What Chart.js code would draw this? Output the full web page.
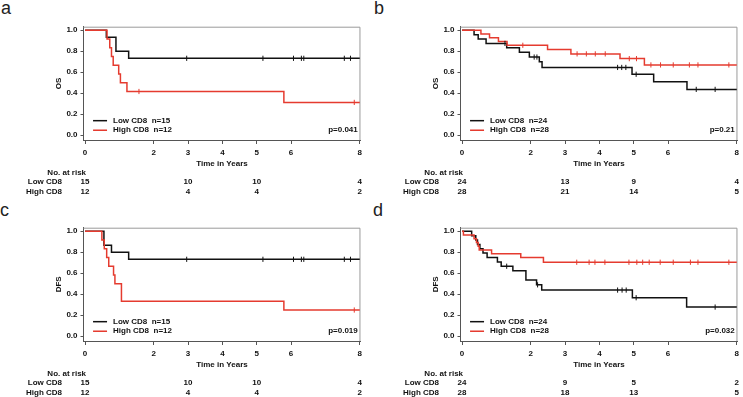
<!DOCTYPE html>
<html lang="en">
<head>
<meta charset="UTF-8">
<title>CD8 survival curves</title>
<script src="https://cdn.jsdelivr.net/npm/chart.js"></script>
<style>
  * { margin: 0; padding: 0; box-sizing: border-box; }
  body {
    width: 743px;
    height: 397px;
    background: #fff;
    position: relative;
    overflow: hidden;
    font-family: "Liberation Sans", Arial, sans-serif;
  }
  canvas { position: absolute; }
  .tag {
    position: absolute;
    font-size: 18px;
    line-height: 1;
    color: #222;
  }
</style>
</head>
<body>
<div class="tag" style="left:1px;top:-1px">a</div>
<div class="tag" style="left:374px;top:-1px">b</div>
<div class="tag" style="left:0px;top:201px">c</div>
<div class="tag" style="left:373px;top:201px">d</div>
<canvas id="chartA" width="366" height="196" style="left:0;top:0"></canvas>
<canvas id="chartB" width="366" height="196" style="left:377px;top:0"></canvas>
<canvas id="chartC" width="366" height="196" style="left:0;top:201px"></canvas>
<canvas id="chartD" width="366" height="196" style="left:377px;top:201px"></canvas>
<script>
// ---- data ----
const seriesNames = ['Low CD8', 'High CD8'];
const xTicks = [0, 2, 3, 4, 5, 6, 8];
const yTicks = [0, 0.2, 0.4, 0.6, 0.8, 1.0];
const riskTimes = [0, 3, 5, 8];

// a: OS, n=15 / n=12
const aLowT = [0, 0.62, 0.90, 1.27, 8];
const aLowS = [1, 0.933, 0.8, 0.733, 0.733];
const aLowCens = [2.96, 5.18, 6.07, 6.30, 6.37, 7.55, 7.73];
const aHighT = [0, 0.64, 0.72, 0.77, 0.82, 0.98, 1.03, 1.22, 5.79, 8];
const aHighS = [1, 0.917, 0.833, 0.75, 0.667, 0.583, 0.5, 0.417, 0.313, 0.313];
const aHighCens = [1.57, 7.84];
const aRiskLow = [15, 10, 10, 4];
const aRiskHigh = [12, 4, 4, 2];

// b: OS, n=24 / n=28
const bLowT = [0, 0.35, 0.47, 0.70, 1.30, 1.67, 1.96, 2.25, 2.33, 4.95, 5.58, 6.55, 8];
const bLowS = [1, 0.958, 0.917, 0.875, 0.833, 0.79, 0.745, 0.70, 0.646, 0.581, 0.51, 0.437, 0.437];
const bLowCens = [1.25, 2.10, 2.18, 4.53, 4.65, 4.77, 5.07, 6.82, 7.37];
const bHighT = [0, 0.55, 0.80, 1.06, 1.31, 2.49, 3.17, 4.60, 5.31, 8];
const bHighS = [1, 0.964, 0.929, 0.893, 0.857, 0.816, 0.775, 0.73, 0.67, 0.67];
const bHighCens = [1.77, 3.35, 3.62, 3.88, 4.17, 4.87, 5.08, 5.50, 5.78, 6.15, 6.62, 6.87, 7.77];
const bRiskLow = [24, 13, 9, 4];
const bRiskHigh = [28, 21, 14, 5];

// c: DFS, n=15 / n=12
const cLowT = [0, 0.55, 0.77, 1.27, 8];
const cLowS = [1, 0.867, 0.8, 0.733, 0.733];
const cLowCens = [2.96, 5.18, 6.07, 6.30, 6.37, 7.55, 7.73];
const cHighT = [0, 0.49, 0.56, 0.63, 0.69, 0.83, 0.87, 1.06, 5.79, 8];
const cHighS = [1, 0.917, 0.833, 0.75, 0.667, 0.583, 0.5, 0.333, 0.25, 0.25];
const cHighCens = [7.84];
const cRiskLow = [15, 10, 10, 4];
const cRiskHigh = [12, 4, 4, 2];

// d: DFS, n=24 / n=28
const dLowT = [0, 0.28, 0.40, 0.45, 0.52, 0.61, 0.73, 1.03, 1.14, 1.48, 1.86, 2.17, 2.32, 4.96, 6.54, 8];
const dLowS = [1, 0.958, 0.917, 0.875, 0.833, 0.792, 0.75, 0.708, 0.667, 0.625, 0.535, 0.49, 0.44, 0.367, 0.278, 0.278];
const dLowCens = [1.30, 2.20, 4.53, 4.66, 4.78, 5.07, 7.37];
const dHighT = [0, 0.04, 0.35, 0.42, 0.47, 0.50, 0.86, 1.71, 2.37, 8];
const dHighS = [1, 0.964, 0.929, 0.893, 0.857, 0.821, 0.786, 0.75, 0.705, 0.705];
const dHighCens = [3.34, 3.70, 3.87, 4.16, 4.86, 5.09, 5.26, 5.45, 5.77, 6.15, 6.65, 6.87, 7.77];
const dRiskLow = [24, 9, 5, 2];
const dRiskHigh = [28, 18, 13, 5];

// ---- styling ----
const BLACK = '#111';
const RED = '#e53b2f';
const AXIS = '#555';
const FONT = '"Liberation Sans", Arial, sans-serif';

Chart.defaults.font.family = FONT;
Chart.defaults.font.size = 8;
Chart.defaults.font.weight = 'bold';
Chart.defaults.color = '#111';

function survAt(t, s, x) {
    let v = s[0];
    for (let i = 0; i < t.length; i++) {
        if (t[i] <= x) v = s[i];
    }
    return v;
}
function stepData(t, s) {
    return t.map((x, i) => ({ x: x, y: s[i] }));
}
function censData(t, s, c) {
    return c.map(x => ({ x: x, y: survAt(t, s, x) }));
}

// box, legend, p value and the numbers-at-risk table
const kmExtras = {
    id: 'kmExtras',
    beforeDatasetsDraw(chart) {
        const { ctx, chartArea: a } = chart;
        ctx.save();
        ctx.strokeStyle = '#9a9a9a';
        ctx.lineWidth = 1;
        ctx.beginPath();
        ctx.moveTo(a.left, a.top + 0.5);
        ctx.lineTo(a.right - 0.5, a.top + 0.5);
        ctx.lineTo(a.right - 0.5, a.bottom);
        ctx.stroke();
        ctx.restore();
    },
    afterDraw(chart, args, opts) {
        const { ctx } = chart;
        const xs = chart.scales.x, ys = chart.scales.y;
        const x0 = xs.getPixelForValue(0);
        ctx.save();
        ctx.font = 'bold 8px ' + FONT;
        ctx.textBaseline = 'middle';

        // legend
        const rows = [
            { color: BLACK, text: seriesNames[0] + '  n=' + opts.n[0], y: ys.getPixelForValue(0.139) },
            { color: RED, text: seriesNames[1] + '  n=' + opts.n[1], y: ys.getPixelForValue(0.048) }
        ];
        rows.forEach(r => {
            ctx.strokeStyle = r.color;
            ctx.lineWidth = 1.5;
            ctx.beginPath();
            ctx.moveTo(x0 + 8, r.y);
            ctx.lineTo(x0 + 22, r.y);
            ctx.stroke();
            ctx.fillStyle = '#111';
            ctx.textAlign = 'left';
            ctx.fillText(r.text, x0 + 28, r.y);
        });

        // p value
        ctx.textAlign = 'right';
        ctx.fillText(opts.p, xs.getPixelForValue(8) - 2, ys.getPixelForValue(0.05));

        // numbers at risk
        const top = chart.chartArea.bottom;
        ctx.fillText('No. at risk', x0 + 1, top + 32.5);
        ctx.fillText(seriesNames[0], x0 - 23, top + 42);
        ctx.fillText(seriesNames[1], x0 - 23, top + 51.5);
        ctx.textAlign = 'center';
        riskTimes.forEach((t, i) => {
            const px = xs.getPixelForValue(t);
            ctx.fillText(String(opts.riskLow[i]), px, top + 42);
            ctx.fillText(String(opts.riskHigh[i]), px, top + 51.5);
        });
        ctx.restore();
    }
};

function makePanel(id, yTitle, low, high, n, riskLow, riskHigh, p) {
    const lineBase = { stepped: true, pointRadius: 0, pointHoverRadius: 0, borderWidth: 1.5, fill: false };
    const censBase = { showLine: false, pointStyle: 'line', rotation: 90, pointRadius: 2.6, pointHoverRadius: 0, pointBorderWidth: 1 };
    new Chart(document.getElementById(id), {
        type: 'line',
        data: {
            datasets: [
                Object.assign({ data: censData(high.t, high.s, high.c), borderColor: RED, pointBorderColor: RED }, censBase),
                Object.assign({ data: censData(low.t, low.s, low.c), borderColor: BLACK, pointBorderColor: BLACK }, censBase),
                Object.assign({ data: stepData(high.t, high.s), borderColor: RED }, lineBase),
                Object.assign({ data: stepData(low.t, low.s), borderColor: BLACK }, lineBase)
            ]
        },
        options: {
            responsive: false,
            animation: false,
            devicePixelRatio: 1,
            layout: { padding: { left: 50, top: 26.7, right: 3, bottom: 0 } },
            plugins: {
                legend: { display: false },
                tooltip: { enabled: false },
                kmExtras: { n: n, riskLow: riskLow, riskHigh: riskHigh, p: p }
            },
            scales: {
                x: {
                    type: 'linear',
                    min: -0.045,
                    max: 8.02,
                    afterBuildTicks: (s) => { s.ticks = xTicks.map(v => ({ value: v })); },
                    afterFit: (s) => { s.height = 56; },
                    ticks: { autoSkip: false, maxRotation: 0, padding: 4, callback: (v) => String(v) },
                    grid: { display: true, drawOnChartArea: false, drawTicks: true, tickLength: 4, color: AXIS },
                    border: { display: true, color: AXIS },
                    title: { display: true, text: 'Time in Years', padding: { top: 0, bottom: 27 } }
                },
                y: {
                    min: -0.045,
                    max: 1.034,
                    afterBuildTicks: (s) => { s.ticks = yTicks.map(v => ({ value: v })); },
                    afterFit: (s) => { s.width = 33.5; },
                    ticks: { padding: 3, callback: (v) => v.toFixed(1) },
                    grid: { display: true, drawOnChartArea: false, drawTicks: true, tickLength: 3, color: AXIS },
                    border: { display: true, color: AXIS },
                    title: { display: true, text: yTitle, padding: { top: 3.5, bottom: 0 } }
                }
            }
        },
        plugins: [kmExtras]
    });
}

makePanel('chartA', 'OS',
    { t: aLowT, s: aLowS, c: aLowCens }, { t: aHighT, s: aHighS, c: aHighCens },
    [15, 12], aRiskLow, aRiskHigh, 'p=0.041');
makePanel('chartB', 'OS',
    { t: bLowT, s: bLowS, c: bLowCens }, { t: bHighT, s: bHighS, c: bHighCens },
    [24, 28], bRiskLow, bRiskHigh, 'p=0.21');
makePanel('chartC', 'DFS',
    { t: cLowT, s: cLowS, c: cLowCens }, { t: cHighT, s: cHighS, c: cHighCens },
    [15, 12], cRiskLow, cRiskHigh, 'p=0.019');
makePanel('chartD', 'DFS',
    { t: dLowT, s: dLowS, c: dLowCens }, { t: dHighT, s: dHighS, c: dHighCens },
    [24, 28], dRiskLow, dRiskHigh, 'p=0.032');
</script>
</body>
</html>
